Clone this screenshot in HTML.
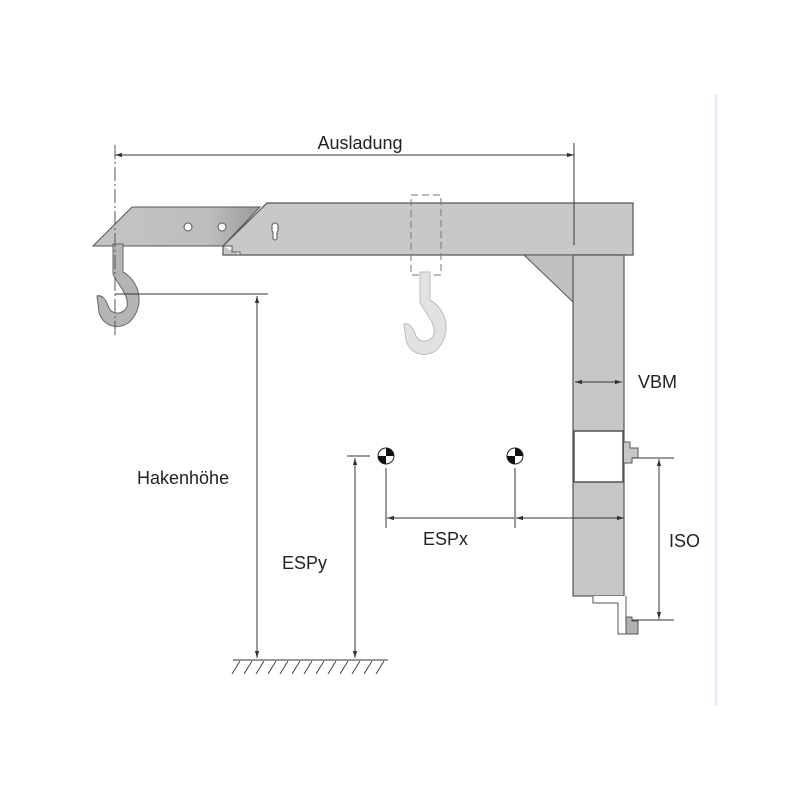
<!DOCTYPE html>
<html><head><meta charset="utf-8"><style>
html,body{margin:0;padding:0;background:#fff}
svg{display:block}
text{font-family:"Liberation Sans",Arial,sans-serif;font-size:18px;fill:#222}
</style></head><body>
<svg width="800" height="800" viewBox="0 0 800 800" xmlns="http://www.w3.org/2000/svg">
<defs>
<marker id="a" viewBox="0 0 10 10" refX="10" refY="5" markerWidth="7" markerHeight="7" orient="auto-start-reverse"><path d="M0,2 L10,5 L0,8 Z" fill="#333"/></marker>
<linearGradient id="g1" x1="0" x2="1"><stop offset="0" stop-color="#c4c4c4"/><stop offset="0.7" stop-color="#bdbdbd"/><stop offset="1" stop-color="#9a9a9a"/></linearGradient>
</defs>
<line x1="716" y1="95" x2="716" y2="705" stroke="#e6eef8" stroke-width="3"/>
<polygon points="132,207 260,207 223,246 93,246" fill="url(#g1)" stroke="#555" stroke-width="1"/>
<circle cx="188" cy="227" r="4" fill="#fff" stroke="#555"/>
<circle cx="222" cy="227" r="4" fill="#fff" stroke="#555"/>
<polygon points="267,203 633,203 633,255 223,255 223,246 267,203" fill="#c8c8c8" stroke="#555" stroke-width="1.2"/>
<path d="M223,246 L232,246 L232,252 L240,252 L240,255" fill="#fff" stroke="#555"/>
<path d="M272,226 a3,3 0 0 1 6,0 l0,4 a2,2 0 0 1 -1,2 l0,6 a2,2 0 0 1 -4,0 l0,-6 a2,2 0 0 1 -1,-2 z" fill="#fff" stroke="#555"/>
<polygon points="524,255 574,255 574,303" fill="#c0c0c0" stroke="#555"/>
<rect x="573" y="255" width="51" height="341" fill="#c6c6c6" stroke="#555" stroke-width="1.2"/>
<rect x="574" y="431" width="49" height="51" fill="#fff" stroke="#555" stroke-width="1.5"/>
<path d="M624,442 L630,442 L630,448 L638,448 L638,458 L632,458 L632,463 L624,463" fill="#c6c6c6" stroke="#555"/>
<path d="M593,596 L593,603 L618,603 L618,634 L626,634 L626,596" fill="#fff" stroke="#555"/>
<path d="M626,617 L632,617 L632,621 L638,621 L638,634 L626,634 Z" fill="#b0b0b0" stroke="#555"/>
<rect x="411" y="195" width="30" height="80" fill="none" stroke="#777" stroke-dasharray="7,4"/>
<path d="M420,272 L430,272 L430,300 C445,308 452,330 440,346 C430,360 410,356 406,340 L404,324 C410,322 414,330 416,336 C420,344 432,342 434,334 C436,322 424,312 420,302 Z" fill="#e2e2e2" stroke="#bbb"/>
<g transform="translate(-307,-28)"><path d="M420,272 L430,272 L430,300 C445,308 452,330 440,346 C430,360 410,356 406,340 L404,324 C410,322 414,330 416,336 C420,344 432,342 434,334 C436,322 424,312 420,302 Z" fill="#b4b4b4" stroke="#666"/></g>
<line x1="115" y1="145" x2="115" y2="335" stroke="#555" stroke-dasharray="14,3,2,3"/>
<line x1="115" y1="155" x2="574" y2="155" stroke="#333" marker-start="url(#a)" marker-end="url(#a)"/>
<line x1="574" y1="143" x2="574" y2="245" stroke="#333"/>
<text x="360" y="149" text-anchor="middle">Ausladung</text>
<line x1="575" y1="382" x2="622" y2="382" stroke="#333" marker-start="url(#a)" marker-end="url(#a)"/>
<text x="638" y="388">VBM</text>
<line x1="115" y1="294" x2="268" y2="294" stroke="#333"/>
<line x1="257" y1="296" x2="257" y2="658" stroke="#333" marker-start="url(#a)" marker-end="url(#a)"/>
<text x="137" y="484">Hakenhöhe</text>
<line x1="347" y1="456" x2="370" y2="456" stroke="#333"/>
<line x1="355" y1="458" x2="355" y2="658" stroke="#333" marker-start="url(#a)" marker-end="url(#a)"/>
<text x="282" y="569">ESPy</text>
<line x1="233" y1="660" x2="388" y2="660" stroke="#333"/>
<g stroke="#444">
<line x1="240" y1="661" x2="232" y2="674"/><line x1="252" y1="661" x2="244" y2="674"/><line x1="264" y1="661" x2="256" y2="674"/><line x1="276" y1="661" x2="268" y2="674"/><line x1="288" y1="661" x2="280" y2="674"/><line x1="300" y1="661" x2="292" y2="674"/><line x1="312" y1="661" x2="304" y2="674"/><line x1="324" y1="661" x2="316" y2="674"/><line x1="336" y1="661" x2="328" y2="674"/><line x1="348" y1="661" x2="340" y2="674"/><line x1="360" y1="661" x2="352" y2="674"/><line x1="372" y1="661" x2="364" y2="674"/><line x1="384" y1="661" x2="376" y2="674"/>
</g>
<g transform="translate(386,456)"><circle r="8" fill="#fff" stroke="#222"/><path d="M0,0 L0,-8 A8,8 0 0 1 8,0 Z M0,0 L0,8 A8,8 0 0 1 -8,0 Z" fill="#111"/></g>
<g transform="translate(515,456)"><circle r="8" fill="#fff" stroke="#222"/><path d="M0,0 L0,-8 A8,8 0 0 1 8,0 Z M0,0 L0,8 A8,8 0 0 1 -8,0 Z" fill="#111"/></g>
<line x1="386" y1="468" x2="386" y2="528" stroke="#333"/>
<line x1="515" y1="468" x2="515" y2="528" stroke="#333"/>
<line x1="387" y1="518" x2="514" y2="518" stroke="#333" marker-start="url(#a)"/>
<line x1="516" y1="518" x2="624" y2="518" stroke="#333" marker-start="url(#a)" marker-end="url(#a)"/>
<text x="423" y="545">ESPx</text>
<line x1="632" y1="458" x2="674" y2="458" stroke="#333"/>
<line x1="632" y1="620" x2="674" y2="620" stroke="#333"/>
<line x1="659" y1="459" x2="659" y2="619" stroke="#333" marker-start="url(#a)" marker-end="url(#a)"/>
<text x="669" y="547">ISO</text>
</svg>
</body></html>
